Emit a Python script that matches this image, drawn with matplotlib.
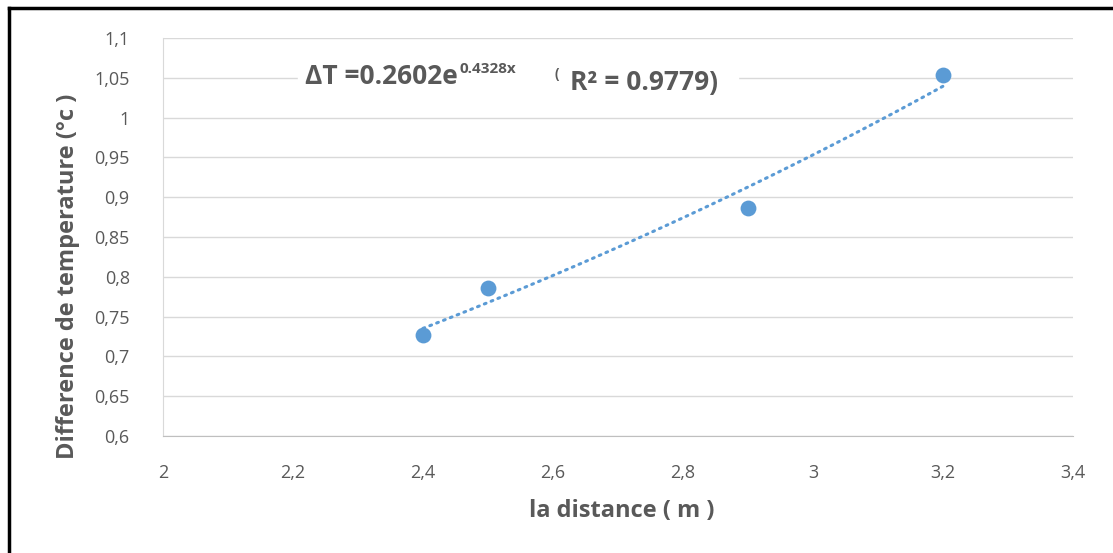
import matplotlib.pyplot as plt
import numpy as np
from matplotlib.lines import Line2D
from matplotlib.ticker import FuncFormatter

# data
distance = [2.4, 2.5, 2.9, 3.2]
delta_t = [0.727, 0.786, 0.886, 1.054]
# fitted trend shown on the chart: dT = a*exp(b*x)
fit_a = 0.2602
fit_b = 0.4328
fit_r2 = 0.9779

xticks = [2, 2.2, 2.4, 2.6, 2.8, 3, 3.2, 3.4]
yticks = [0.6, 0.65, 0.7, 0.75, 0.8, 0.85, 0.9, 0.95, 1, 1.05, 1.1]

plt.rcParams['font.family'] = ['Open Sans', 'DejaVu Sans']
grey = '#595959'
blue = '#5B9BD5'

fig = plt.figure(figsize=(11.13, 5.53), dpi=100)
ax = fig.add_axes([163/1113, 117/553, 910/1113, 398/553])

ax.scatter(distance, delta_t, s=130, color=blue, zorder=3, linewidths=0)

xs = np.linspace(distance[0], distance[-1], 100)
ax.plot(xs, fit_a*np.exp(fit_b*xs), color=blue, lw=2.2, ls=(0, (0.6, 1.8)),
        dash_capstyle='round', zorder=2)

ax.set_xlim(2, 3.4)
ax.set_ylim(0.6, 1.1)
ax.set_xticks(xticks)
ax.set_yticks(yticks)
fmt = FuncFormatter(lambda v, p: ('%g' % round(v, 2)).replace('.', ','))
ax.xaxis.set_major_formatter(fmt)
ax.yaxis.set_major_formatter(fmt)
ax.tick_params(length=0, labelsize=13, labelcolor=grey)
ax.tick_params(axis='y', pad=24)
ax.tick_params(axis='x', pad=20)

ax.grid(axis='y', color='#D9D9D9', lw=1)
ax.set_axisbelow(True)
for s in ['top', 'right']:
    ax.spines[s].set_visible(False)
ax.spines['left'].set_color('#D9D9D9')
ax.spines['bottom'].set_color('#BFBFBF')

ax.set_xlabel('la distance ( m )', fontsize=17, fontweight='bold', color=grey)
ax.set_ylabel('Difference de temperature (°c )', fontsize=17, fontweight='bold', color=grey)
ax.xaxis.set_label_coords(0.504, -0.158)
ax.yaxis.set_label_coords(-0.091, 0.40)

# equation label, pieces chained one after another
ax.add_patch(plt.Rectangle((298/1113, (553-98)/553), 440/1113, 38/553,
                           transform=fig.transFigure, color='white', zorder=5,
                           clip_on=False))
t1 = ax.text(305/1113, (553-84)/553, 'ΔT =%.4fe' % fit_a, transform=fig.transFigure,
             fontsize=19, fontweight='bold', color=grey, zorder=6)
t2 = ax.annotate('%.4fx' % fit_b, xy=(1, 0.62), xycoords=t1, xytext=(1, 0),
                 textcoords='offset points', fontsize=11, fontweight='bold', color=grey,
                 zorder=6, annotation_clip=False)
ax.annotate('(', xy=(1, 0), xycoords=t2, xytext=(28, -1), textcoords='offset points',
            fontsize=10, fontweight='bold', color=grey, zorder=6, annotation_clip=False)
ax.annotate('R² = %.4f)' % fit_r2, xy=(1, 0), xycoords=t1, xytext=(112, 0),
            textcoords='offset pixels', fontsize=19, fontweight='bold', color=grey,
            zorder=6, annotation_clip=False)

# black frame on left and top
fig.lines.append(Line2D([9/1113, 9/1113], [0, (553-8)/553], transform=fig.transFigure,
                        color='black', lw=2.5))
fig.lines.append(Line2D([9/1113, 1], [(553-8)/553, (553-8)/553], transform=fig.transFigure,
                        color='black', lw=2.5))

fig.savefig('out.png', dpi=100)
